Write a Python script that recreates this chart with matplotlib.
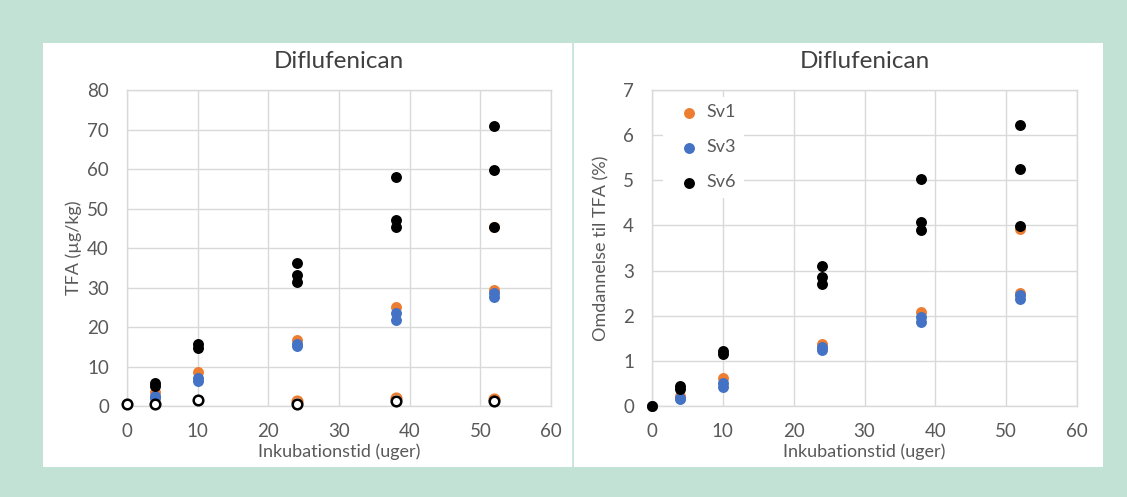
import matplotlib.pyplot as plt
from matplotlib.patches import Rectangle
from matplotlib.lines import Line2D

# --- data ---
# left chart: TFA (ug/kg)
l_sv1_x = [4, 10, 24, 38, 52, 52]
l_sv1_y = [3.5, 8.5, 16.8, 25.0, 29.3, 45.4]
l_sv3_x = [4, 4, 10, 10, 24, 24, 38, 38, 52, 52]
l_sv3_y = [2.6, 2.0, 7.0, 6.3, 15.7, 15.1, 23.5, 21.8, 28.6, 27.6]
l_sv6_x = [4, 4, 10, 10, 24, 24, 24, 38, 38, 38, 52, 52, 52]
l_sv6_y = [5.8, 5.0, 15.6, 14.8, 36.1, 33.2, 31.3, 58.0, 47.0, 45.2, 71.0, 59.8, 45.3]
ctrl_o_x = [24, 38, 52]
ctrl_o_y = [1.2, 2.0, 1.8]
ctrl_k_x = [0, 4, 10, 24, 38, 52]
ctrl_k_y = [0.5, 0.5, 1.5, 0.5, 1.2, 1.2]

# right chart: omdannelse til TFA (%)
r_sv1_x = [0, 4, 10, 24, 38, 52, 52]
r_sv1_y = [0, 0.22, 0.62, 1.37, 2.08, 2.50, 3.92]
r_sv3_x = [0, 4, 4, 10, 10, 24, 24, 38, 38, 52, 52]
r_sv3_y = [0, 0.18, 0.15, 0.50, 0.42, 1.30, 1.25, 1.98, 1.87, 2.45, 2.38]
r_sv6_x = [0, 4, 4, 10, 10, 24, 24, 24, 38, 38, 38, 52, 52, 52]
r_sv6_y = [0, 0.45, 0.38, 1.22, 1.15, 3.10, 2.85, 2.70, 5.02, 4.08, 3.90, 6.22, 5.25, 3.98]

ORANGE = '#ED7D31'
BLUE = '#4472C4'
GRID = '#d9d9d9'
TXT = '#595959'
BG = '#c1e2d4'

plt.rcParams['font.family'] = ['Lato', 'DejaVu Sans']

W, H = 1127, 497
fig = plt.figure(figsize=(W / 100, H / 100), dpi=100)
fig.patch.set_facecolor(BG)

# white chart panel and divider
fig.add_artist(Rectangle((43 / W, 1 - 467 / H), (1103 - 43) / W, (467 - 43) / H,
                         transform=fig.transFigure, facecolor='white', edgecolor='none', zorder=0))
fig.add_artist(Line2D([573 / W, 573 / W], [1 - 467 / H, 1 - 43 / H],
                      transform=fig.transFigure, color=BG, lw=1.2, zorder=1))


def make_ax(x0, x1, y0, y1):
    ax = fig.add_axes([x0 / W, 1 - y1 / H, (x1 - x0) / W, (y1 - y0) / H])
    ax.set_facecolor('white')
    for s in ax.spines.values():
        s.set_color(GRID)
        s.set_linewidth(1)
    ax.grid(True, color=GRID, lw=1)
    ax.set_axisbelow(True)
    ax.tick_params(length=0, colors=TXT, labelsize=13.5)
    ax.tick_params(axis='x', pad=12)
    ax.tick_params(axis='y', pad=13)
    ax.set_xlim(0, 60)
    ax.set_xticks(range(0, 61, 10))
    ax.set_title('Diflufenican', fontsize=17.5, color='#404040', pad=16)
    ax.set_xlabel('Inkubationstid (uger)', fontsize=13, color=TXT, labelpad=3)
    return ax


S = 62

ax1 = make_ax(127, 551, 90, 406)
ax1.set_ylim(0, 80)
ax1.set_yticks(range(0, 81, 10))
ax1.set_ylabel('TFA (µg/kg)', fontsize=13, color=TXT, labelpad=4)
ax1.scatter(l_sv1_x, l_sv1_y, s=S, color=ORANGE, lw=0, zorder=3, clip_on=False)
ax1.scatter(l_sv3_x, l_sv3_y, s=S, color=BLUE, lw=0, zorder=4, clip_on=False)
ax1.scatter(l_sv6_x, l_sv6_y, s=S, color='black', lw=0, zorder=5, clip_on=False)
ax1.scatter(ctrl_o_x, ctrl_o_y, s=48, facecolor='white', edgecolor=ORANGE, lw=1.8, zorder=6, clip_on=False)
ax1.scatter(ctrl_k_x, ctrl_k_y, s=48, facecolor='white', edgecolor='black', lw=1.8, zorder=7, clip_on=False)

ax2 = make_ax(652, 1077, 90, 406)
ax2.set_ylim(0, 7)
ax2.set_yticks(range(0, 8))
ax2.set_ylabel('Omdannelse til TFA (%)', fontsize=13, color=TXT, labelpad=10)
ax2.scatter(r_sv1_x, r_sv1_y, s=S, color=ORANGE, lw=0, zorder=3, clip_on=False, label='Sv1')
ax2.scatter(r_sv3_x, r_sv3_y, s=S, color=BLUE, lw=0, zorder=4, clip_on=False, label='Sv3')
ax2.scatter(r_sv6_x, r_sv6_y, s=S, color='black', lw=0, zorder=5, clip_on=False, label='Sv6')
leg = ax2.legend(loc='upper left', bbox_to_anchor=(0.01, 1.0), frameon=True, fontsize=13,
                 handletextpad=0.0, labelspacing=1.05, borderaxespad=0.4,
                 facecolor='white', edgecolor='none', framealpha=1)
for t in leg.get_texts():
    t.set_color(TXT)

fig.savefig('out.png', dpi=100, facecolor=fig.get_facecolor())
